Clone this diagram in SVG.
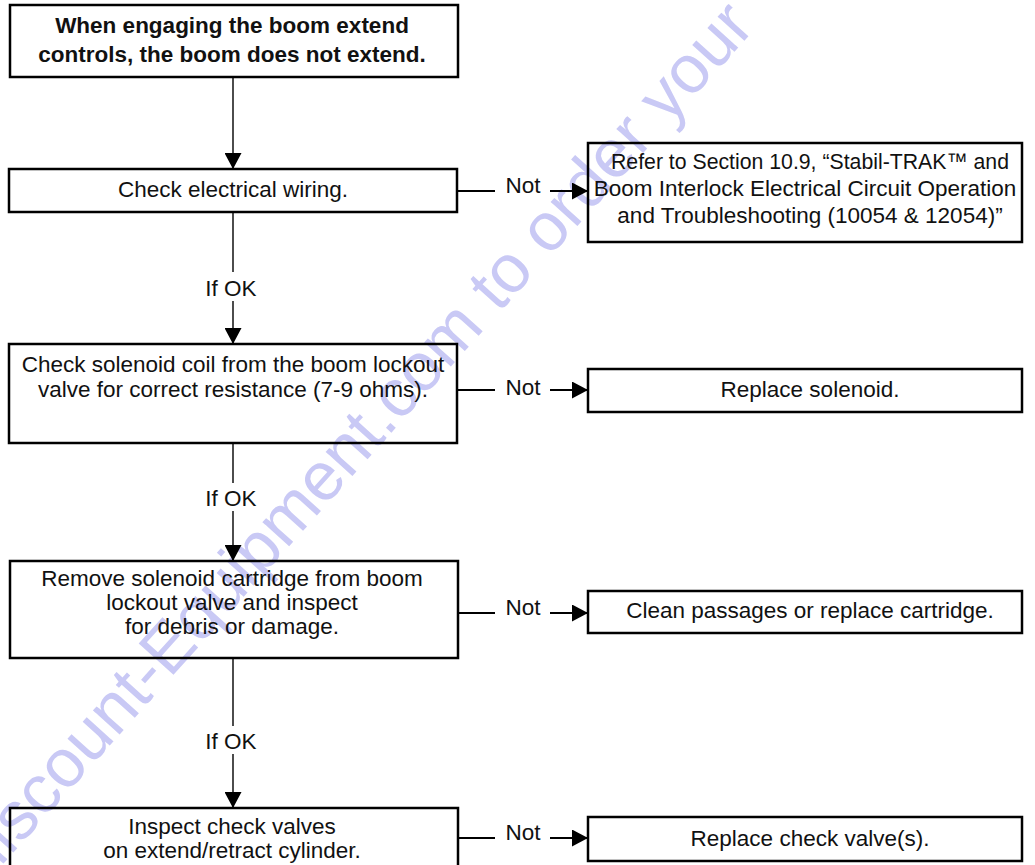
<svg xmlns="http://www.w3.org/2000/svg" width="1035" height="865" viewBox="0 0 1035 865">
<style>
.bg{fill:#ffffff}
.wm{font-family:"Liberation Sans",Arial,sans-serif;font-size:68px;fill:#c9c9f5}
.box{fill:none;stroke:#000;stroke-width:2.5}
.t{font-family:"Liberation Sans",Arial,sans-serif;font-size:22.5px;fill:#111;text-anchor:middle}
.b{font-weight:bold}
.v{fill:none;stroke:#000;stroke-width:1.4}
.h{fill:none;stroke:#000;stroke-width:2}
</style>
<defs>
<marker id="ah" viewBox="0 0 16 17" refX="16" refY="8.5" markerWidth="16" markerHeight="17" markerUnits="userSpaceOnUse" orient="auto">
<path d="M0,0 L16,8.5 L0,17 z" fill="#000"/>
</marker>
</defs>
<rect class="bg" x="0" y="0" width="1035" height="865"/>
<text class="wm" transform="translate(-15,884) rotate(-48)">discount-Equipment.com to order your</text>

<g id="connectors">
<line class="v" x1="233" y1="77" x2="233" y2="169" marker-end="url(#ah)"/>
<line class="v" x1="233" y1="212" x2="233" y2="272"/>
<text class="t" x="231" y="296">If OK</text>
<line class="v" x1="233" y1="301" x2="233" y2="344" marker-end="url(#ah)"/>
<line class="v" x1="233" y1="443" x2="233" y2="483"/>
<text class="t" x="231" y="506">If OK</text>
<line class="v" x1="233" y1="511" x2="233" y2="561" marker-end="url(#ah)"/>
<line class="v" x1="233" y1="658" x2="233" y2="726"/>
<text class="t" x="231" y="749">If OK</text>
<line class="v" x1="233" y1="754" x2="233" y2="808" marker-end="url(#ah)"/>

<line class="h" x1="457" y1="191" x2="495" y2="191"/>
<text class="t" x="523" y="193">Not</text>
<line class="h" x1="550" y1="191" x2="588" y2="191" marker-end="url(#ah)"/>
<line class="h" x1="457" y1="390" x2="495" y2="390"/>
<text class="t" x="523" y="395">Not</text>
<line class="h" x1="550" y1="390" x2="588" y2="390" marker-end="url(#ah)"/>
<line class="h" x1="457" y1="613" x2="495" y2="613"/>
<text class="t" x="523" y="615">Not</text>
<line class="h" x1="550" y1="613" x2="588" y2="613" marker-end="url(#ah)"/>
<line class="h" x1="457" y1="838" x2="495" y2="838"/>
<text class="t" x="523" y="840">Not</text>
<line class="h" x1="550" y1="838" x2="588" y2="838" marker-end="url(#ah)"/>
</g>

<g id="start">
<rect class="box" x="10" y="5" width="448" height="72"/>
<text class="t b" x="232" y="33">When engaging the boom extend</text>
<text class="t b" x="232" y="62">controls, the boom does not extend.</text>
</g>
<g id="wiring">
<rect class="box" x="9" y="169" width="448" height="43"/>
<text class="t" x="233" y="197">Check electrical wiring.</text>
</g>
<g id="refer">
<rect class="box" x="588" y="143" width="434" height="99"/>
<text class="t" x="810" y="169" textLength="398" lengthAdjust="spacingAndGlyphs">Refer to Section 10.9, “Stabil-TRAK™ and</text>
<text class="t" x="805" y="196">Boom Interlock Electrical Circuit Operation</text>
<text class="t" x="810" y="223">and Troubleshooting (10054 &amp; 12054)”</text>
</g>
<g id="coil">
<rect class="box" x="9" y="344" width="448" height="99"/>
<text class="t" x="233" y="372">Check solenoid coil from the boom lockout</text>
<text class="t" x="233" y="397">valve for correct resistance (7-9 ohms).</text>
</g>
<g id="replace-solenoid">
<rect class="box" x="588" y="369" width="434" height="43"/>
<text class="t" x="810" y="397">Replace solenoid.</text>
</g>
<g id="cartridge">
<rect class="box" x="10" y="561" width="448" height="97"/>
<text class="t" x="232" y="586">Remove solenoid cartridge from boom</text>
<text class="t" x="232" y="610">lockout valve and inspect</text>
<text class="t" x="232" y="634">for debris or damage.</text>
</g>
<g id="clean">
<rect class="box" x="588" y="591" width="434" height="42"/>
<text class="t" x="810" y="618">Clean passages or replace cartridge.</text>
</g>
<g id="check-valves">
<rect class="box" x="10" y="808" width="448" height="80"/>
<text class="t" x="232" y="834">Inspect check valves</text>
<text class="t" x="232" y="858">on extend/retract cylinder.</text>
</g>
<g id="replace-valves">
<rect class="box" x="588" y="817" width="434" height="44"/>
<text class="t" x="810" y="846">Replace check valve(s).</text>
</g>
</svg>
